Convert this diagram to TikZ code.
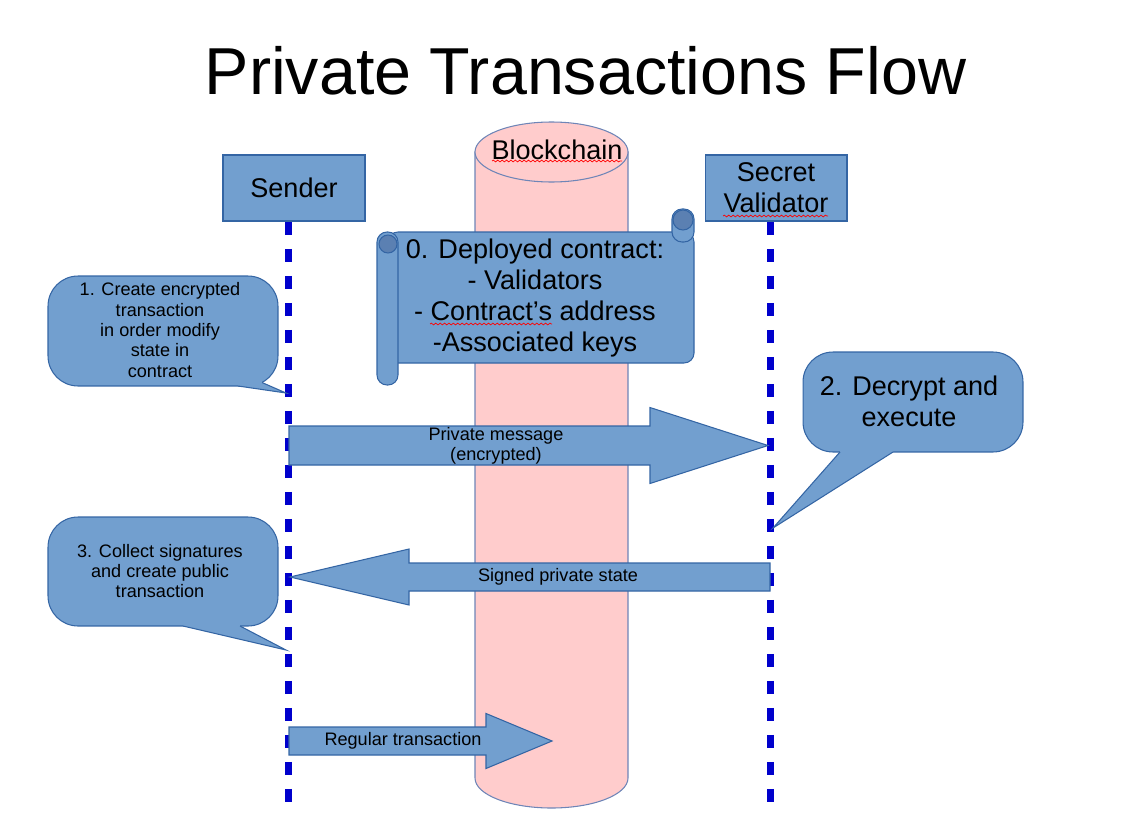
\documentclass[tikz,border=0pt]{standalone}
\usepackage{fontspec}
\setmainfont{Liberation Sans}
\usetikzlibrary{calc,decorations.pathmorphing}

\definecolor{BoxColor}{HTML}{729FCF}
\definecolor{EdgeColor}{HTML}{3465A4}
\definecolor{CurlColor}{HTML}{5B80B2}
\definecolor{ChainColor}{HTML}{FFCCCC}
\definecolor{ChainEdge}{HTML}{6E85B7}
\definecolor{LifeColor}{HTML}{0000CC}

\newcommand{\titlesize}{\fontsize{37.8}{45}\selectfont}
\newcommand{\labelsize}{\fontsize{15.4}{17.64}\selectfont}
\newcommand{\notesize}{\fontsize{10.3}{11.55}\selectfont}

\tikzset{
  actor/.style={draw=EdgeColor, fill=BoxColor, line width=0.6pt, minimum width=2.84cm,
    minimum height=1.32cm, inner sep=0pt, font=\labelsize, align=center},
  callout/.style={draw=EdgeColor, fill=BoxColor, line width=0.6pt, rounded corners=0.6cm,
    inner sep=0pt, align=center},
  scrollpart/.style={draw=EdgeColor, fill=BoxColor, line width=0.6pt, rounded corners=0.2cm},
  lifeline/.style={draw=LifeColor, line width=0.15cm, dash pattern=on 0.26cm off 0.28cm},
  blockarrow/.style={draw=EdgeColor, fill=BoxColor, line width=0.6pt, line join=miter},
  spellmark/.style={draw=red, line width=0.4pt, decorate,
    decoration={snake, amplitude=0.5pt, segment length=2.5pt}},
}

% block arrow: from, to, shaft half width, head half width, head length (signed)
\newcommand{\blockarrow}[5]{%
  \filldraw[blockarrow] ($(#1)+(0,{-(#3)})$) -- ($(#2)+({-(#5)},{-(#3)})$)
    -- ($(#2)+({-(#5)},{-(#4)})$) -- (#2) -- ($(#2)+({-(#5)},#4)$)
    -- ($(#2)+({-(#5)},#3)$) -- ($(#1)+(0,#3)$) -- cycle;}

\begin{document}
\begin{tikzpicture}[x=0.02cm,y=-0.02cm]
  \useasboundingbox (0,0) rectangle (1141,821);

  % ===== Title =====
  \node[font=\titlesize, anchor=base] (title) at (585.5,94) {Private Transactions Flow};

  % ===== Blockchain cylinder =====
  \filldraw[draw=ChainEdge, fill=ChainColor, line width=0.6pt]
    (475,152) -- (475,778) arc[start angle=180, end angle=0, x radius=76.5, y radius=30]
    -- (628,152) -- cycle;
  \filldraw[draw=ChainEdge, fill=ChainColor, line width=0.6pt]
    (551.5,152) ellipse[x radius=76.5, y radius=30];
  \node[font=\labelsize] (chain) at (557,150) {Blockchain};
  \draw[spellmark] (492,161) -- (622,161);

  % ===== Deployed contract (scroll) =====
  \filldraw[scrollpart] (388,232) rectangle (694,363);
  \filldraw[scrollpart] (672,209) rectangle (694,242);
  \filldraw[scrollpart] (377,232) rectangle (398,385);
  \filldraw[draw=EdgeColor, fill=CurlColor, line width=0.6pt] (683,220) circle[radius=10];
  \filldraw[draw=EdgeColor, fill=CurlColor, line width=0.6pt] (388,244) circle[radius=9];
  \node[font=\labelsize, align=center] (contract) at (535,298)
    {0. Deployed contract:\\- Validators\\- Contract’s address\\-Associated keys};
  \draw[spellmark] (430,324) -- (552,324);

  % ===== Actors =====
  \node[actor] (sender) at (294,188) {Sender};
  \node[actor] (validator) at (776,188) {Secret\\Validator};
  \draw[spellmark] (723,216) -- (828,216);

  % ===== Lifelines =====
  \coordinate (sTop) at (288.5,222);
  \coordinate (sBot) at (288.5,802);
  \coordinate (vTop) at (770.5,222);
  \coordinate (vBot) at (770.5,802);
  \draw[lifeline] (sTop) -- (sBot);
  \draw[lifeline] (vTop) -- (vBot);

  % ===== Callouts =====
  % 1. create
  \node[callout, minimum width=4.6cm, minimum height=2.2cm] (note1) at (163,331) {};
  \coordinate (tip1) at (286,393);
  \fill[BoxColor] (238,380) -- (238,386) -- (tip1) -- (262,382.5) -- (262,378) -- cycle;
  \draw[EdgeColor, line width=0.6pt] (238,386) -- (tip1) -- (262,382.5);
  \node[font=\notesize, align=center] (text1) at (160,330)
    {1. Create encrypted\\transaction\\in order modify\\state in\\contract};

  % 2. decrypt
  \node[callout, minimum width=4.4cm, minimum height=2.0cm] (note2) at (913,402) {};
  \coordinate (tip2) at (773,528);
  \fill[BoxColor] (840,447) -- (840,452) -- (tip2) -- (893,452) -- (893,447) -- cycle;
  \draw[EdgeColor, line width=0.6pt] (840,452) -- (tip2) -- (893,452);
  \node[font=\labelsize, align=center] (text2) at (909,401.5) {2. Decrypt and\\execute};

  % 3. collect
  \node[callout, minimum width=4.6cm, minimum height=2.18cm] (note3) at (163,571.5) {};
  \coordinate (tip3) at (286,650);
  \fill[BoxColor] (183,621) -- (183,626) -- (tip3) -- (240,626) -- (240,621) -- cycle;
  \draw[EdgeColor, line width=0.6pt] (183,626) -- (tip3) -- (240,626);
  \node[font=\notesize, align=center] (text3) at (160,571)
    {3. Collect signatures\\and create public\\transaction};

  % ===== Messages =====
  \coordinate (pmFrom) at (289,445.5);
  \coordinate (pmTo)   at (768,445.5);
  \blockarrow{pmFrom}{pmTo}{19.5}{38}{118}
  \node[font=\notesize, align=center] (pmLabel) at (496,446) {Private message\\(encrypted)};

  \coordinate (spFrom) at (770,577);
  \coordinate (spTo)   at (290,577);
  \blockarrow{spFrom}{spTo}{14}{28}{-119}
  \node[font=\notesize] (spLabel) at (558,577) {Signed private state};

  \coordinate (rtFrom) at (289,741);
  \coordinate (rtTo)   at (552,741);
  \blockarrow{rtFrom}{rtTo}{14}{27.5}{66}
  \node[font=\notesize] (rtLabel) at (403,741) {Regular transaction};

\end{tikzpicture}
\end{document}
